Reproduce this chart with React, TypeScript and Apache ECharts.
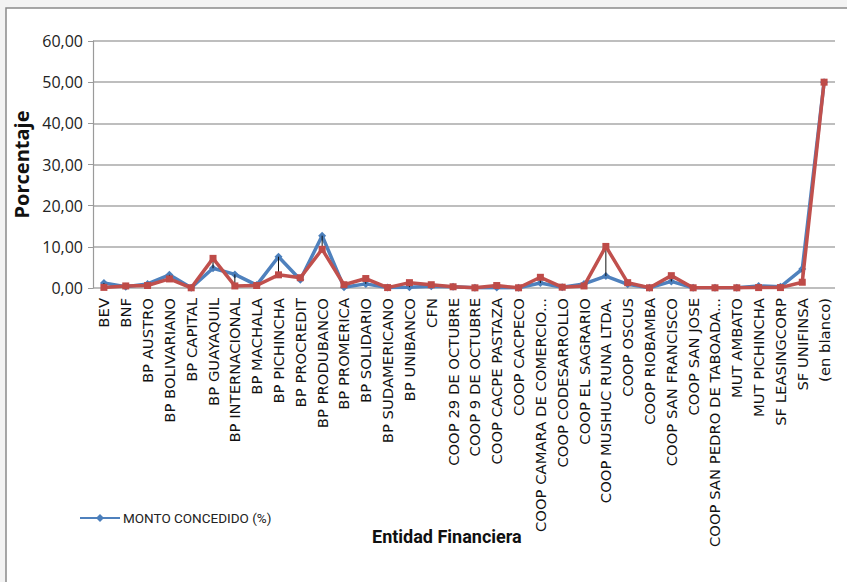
import React, { useEffect, useRef } from "react";
import * as echarts from "echarts";

const categories: string[] = [
  "BEV", "BNF", "BP AUSTRO", "BP BOLIVARIANO", "BP CAPITAL", "BP GUAYAQUIL",
  "BP INTERNACIONAL", "BP MACHALA", "BP PICHINCHA", "BP PROCREDIT", "BP PRODUBANCO",
  "BP PROMERICA", "BP SOLIDARIO", "BP SUDAMERICANO", "BP UNIBANCO", "CFN",
  "COOP 29 DE OCTUBRE", "COOP 9 DE OCTUBRE", "COOP CACPE PASTAZA", "COOP CACPECO",
  "COOP CAMARA DE COMERCIO...", "COOP CODESARROLLO", "COOP EL SAGRARIO",
  "COOP MUSHUC RUNA LTDA.", "COOP OSCUS", "COOP RIOBAMBA", "COOP SAN FRANCISCO",
  "COOP SAN JOSE", "COOP SAN PEDRO DE TABOADA...", "MUT AMBATO", "MUT PICHINCHA",
  "SF LEASINGCORP", "SF UNIFINSA", "(en blanco)",
];

const montoConcedido: number[] = [
  1.2, 0.3, 1.0, 3.2, 0.05, 4.8, 3.3, 0.7, 7.6, 2.0, 12.7, 0.2, 1.0, 0.1, 0.2, 0.4,
  0.3, 0.05, 0.1, 0.05, 1.2, 0.2, 1.0, 2.9, 0.9, 0.05, 1.6, 0.05, 0.05, 0.05, 0.5,
  0.3, 4.6, 50.0,
];

const numeroOperaciones: number[] = [
  0.15, 0.5, 0.6, 2.2, 0.05, 7.2, 0.5, 0.6, 3.2, 2.5, 9.4, 0.8, 2.3, 0.1, 1.3, 0.8,
  0.3, 0.05, 0.6, 0.05, 2.6, 0.2, 0.5, 10.1, 1.3, 0.05, 3.0, 0.05, 0.05, 0.05, 0.1,
  0.1, 1.4, 50.0,
];

const yTicks: number[] = [0, 10, 20, 30, 40, 50, 60];

const BLUE_NAME = "MONTO CONCEDIDO (%)";
const RED_NAME = "NÚMERO DE OPERACIONES (%)";

const NARROW = "Roboto, 'Open Sans', sans-serif";

export default function App() {
  const ref = useRef<HTMLDivElement>(null);
  useEffect(() => {
    if (!ref.current) return;
    const chart = echarts.init(ref.current, undefined, { renderer: "svg" });
    const hlData = categories.map((_, i) => [
      i,
      Math.min(montoConcedido[i], numeroOperaciones[i]),
      Math.max(montoConcedido[i], numeroOperaciones[i]),
    ]);
    chart.setOption({
      animation: false,
      backgroundColor: "#f3f3f3",
      graphic: [
        {
          type: "rect",
          shape: { x: 6, y: 8, width: 900, height: 620 },
          style: { fill: "#ffffff", stroke: "#8a8a8a", lineWidth: 1.5 },
          z: -10,
          silent: true,
        },
        {
          type: "text",
          left: 372,
          top: 527,
          style: {
            text: "Entidad Financiera",
            font: "bold 18px " + NARROW,
            fill: "#111",
          },
        },
      ],
      legend: {
        data: [BLUE_NAME],
        left: 74,
        top: 506,
        itemWidth: 40,
        itemHeight: 10,
        itemGap: 3,
        textStyle: { fontFamily: NARROW, fontSize: 13.5, color: "#222", padding: [0, 0, 0, -2] },
      },
      grid: { left: 93, right: 12, top: 41, bottom: 294, containLabel: false },
      xAxis: {
        type: "category",
        data: categories,
        boundaryGap: true,
        axisLine: { show: false },
        axisTick: { show: false },
        axisLabel: {
          interval: 0,
          rotate: 90,
          margin: 10,
          fontFamily: "'DejaVu Sans', sans-serif",
          fontSize: 14.8,
          color: "#111",
        },
      },
      yAxis: {
        type: "value",
        min: yTicks[0],
        max: yTicks[yTicks.length - 1],
        interval: 10,
        name: "Porcentaje",
        nameLocation: "middle",
        nameGap: 52,
        nameRotate: 90,
        nameTextStyle: { fontFamily: "'Open Sans', sans-serif", fontWeight: "bold", fontSize: 20, color: "#111" },
        axisLine: { show: true, lineStyle: { color: "#9a9a9a", width: 1.2 } },
        axisTick: { show: true, inside: false, length: 5, lineStyle: { color: "#9a9a9a" } },
        splitLine: { lineStyle: { color: "#a8a8a8", width: 1.6 } },
        axisLabel: {
          margin: 10,
          fontFamily: "'Open Sans', sans-serif",
          fontSize: 16,
          color: "#222",
          formatter: (v: number) => v.toFixed(2).replace(".", ","),
        },
      },
      series: [
        {
          name: BLUE_NAME,
          type: "line",
          data: montoConcedido,
          symbol: "diamond",
          symbolSize: 8,
          lineStyle: { color: "#4f81bd", width: 3.5 },
          itemStyle: { color: "#4a7ebb" },
          z: 2,
        },
        {
          name: "hl",
          type: "custom",
          data: hlData,
          encode: { x: 0, y: [1, 2] },
          renderItem: (params: any, api: any) => {
            const p1 = api.coord([api.value(0), api.value(1)]);
            const p2 = api.coord([api.value(0), api.value(2)]);
            return {
              type: "line",
              shape: { x1: p1[0], y1: p1[1], x2: p2[0], y2: p2[1] },
              style: { stroke: "#111", lineWidth: 1 },
            };
          },
          z: 3,
          silent: true,
        },
        {
          name: RED_NAME,
          type: "line",
          data: numeroOperaciones,
          symbol: "rect",
          symbolSize: 7,
          lineStyle: { color: "#c0504d", width: 3.5 },
          itemStyle: { color: "#be4b48" },
          z: 4,
        },
      ],
    });
    return () => chart.dispose();
  }, []);
  return (
    <div
      ref={ref}
      style={{ position: "absolute", left: 0, top: 0, width: 847, height: 582 }}
    />
  );
}
